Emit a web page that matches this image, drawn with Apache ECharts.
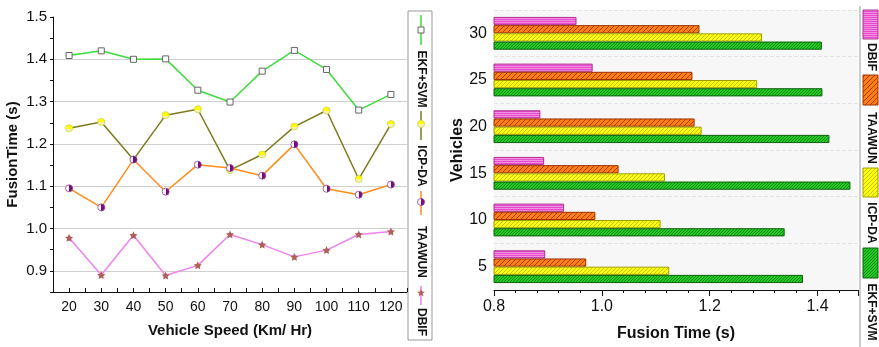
<!DOCTYPE html>
<html><head><meta charset="utf-8">
<script src="https://cdn.jsdelivr.net/npm/echarts@6/dist/echarts.min.js"></script>
<style>html,body{margin:0;padding:0;background:#fff}#c{width:879px;height:347px}</style>
</head><body><div id="c"></div>
<script>
// ---- data ----
const speeds = [20, 30, 40, 50, 60, 70, 80, 90, 100, 110, 120];
const ekfLine  = [1.409, 1.420, 1.400, 1.401, 1.327, 1.299, 1.372, 1.421, 1.376, 1.280, 1.317];
const icpLine  = [1.237, 1.252, 1.163, 1.268, 1.282, 1.138, 1.175, 1.241, 1.279, 1.117, 1.247];
const taaLine  = [1.095, 1.050, 1.163, 1.087, 1.151, 1.143, 1.125, 1.199, 1.094, 1.080, 1.104];
const dbifLine = [0.978, 0.890, 0.984, 0.889, 0.913, 0.986, 0.962, 0.933, 0.949, 0.986, 0.993];

const vehicles = ['5', '10', '15', '20', '25', '30'];
const ekfBar  = [1.373, 1.339, 1.461, 1.422, 1.409, 1.408];
const icpBar  = [1.125, 1.109, 1.117, 1.185, 1.288, 1.297];
const taaBar  = [0.971, 0.988, 1.031, 1.172, 1.168, 1.181];
const dbifBar = [0.895, 0.930, 0.893, 0.886, 0.983, 0.953];

const seriesNames = ['EKF+SVM', 'ICP-DA', 'TAAWUN', 'DBIF'];

// ---- patterns ----
function mk(w, h, draw) { const c = document.createElement('canvas'); c.width = w; c.height = h; draw(c.getContext('2d'), w, h); return c; }
function diag(bg, fg, s, lw) {
  return { image: mk(s, s, (g) => {
    g.fillStyle = bg; g.fillRect(0, 0, s, s);
    g.strokeStyle = fg; g.lineWidth = lw; g.beginPath();
    g.moveTo(0, s); g.lineTo(s, 0);
    g.moveTo(-1, 1); g.lineTo(1, -1);
    g.moveTo(s - 1, s + 1); g.lineTo(s + 1, s - 1);
    g.stroke();
  }), repeat: 'repeat' };
}
function horiz(bg, fg, s) {
  return { image: mk(4, s, (g) => { g.fillStyle = bg; g.fillRect(0, 0, 4, s); g.fillStyle = fg; g.fillRect(0, 0, 4, 1); }), repeat: 'repeat' };
}
const pGreen = diag('#22cc22', '#138a13', 3, 1);
const pYellow = diag('#ffff10', '#c4c400', 4, 1);
const pOrange = diag('#ff8010', '#a83a00', 5, 1);
const pPink = horiz('#e44ccc', '#f590e4', 2);

const FONT = 'Liberation Sans, Arial, sans-serif';
const chart = echarts.init(document.getElementById('c'), null, { renderer: 'canvas' });

const halfPurple = new echarts.graphic.LinearGradient(0, 0, 1, 0, [
  { offset: 0, color: '#ffffff' }, { offset: 0.5, color: '#ffffff' },
  { offset: 0.5, color: '#7a0a84' }, { offset: 1, color: '#7a0a84' }]);
const halfYellow = new echarts.graphic.LinearGradient(0, 0, 0, 1, [
  { offset: 0, color: '#ffff00' }, { offset: 0.55, color: '#ffff00' },
  { offset: 0.55, color: '#f4f4b0' }, { offset: 1, color: '#f4f4b0' }]);

const STAR = 'path://M0,-10 L2.9,-4 L9.5,-3.1 L4.8,1.5 L5.9,8.1 L0,5 L-5.9,8.1 L-4.8,1.5 L-9.5,-3.1 L-2.9,-4 Z';

function pairs(arr) { return speeds.map((s, i) => [s, arr[i]]); }
const isTenth = (v) => Math.abs(v * 10 - Math.round(v * 10)) < 1e-6;

// gridline colours for ticks 0.85 .. 1.50 (step 0.05): only 0.9 .. 1.4 drawn
const T = 'rgba(0,0,0,0)', G = '#cfcfcf';
const gridColors = [T, G, T, G, T, G, T, G, T, G, T, G, T, T];

// legend graphics
const lx = 421, rx = 871;
function vline(x, y1, y2, color) { return { type: 'line', shape: { x1: x, y1: y1, x2: x, y2: y2 }, style: { stroke: color, lineWidth: 1.5 }, silent: true }; }
function vtext(x, y, t) { return { type: 'text', x: x, y: y, rotation: -Math.PI / 2, style: { text: t, font: 'bold 12px ' + FONT, fill: '#111', align: 'center', verticalAlign: 'middle' }, silent: true }; }
function starPts(cx, cy, r) {
  const pts = [];
  for (let i = 0; i < 10; i++) {
    const a = -Math.PI / 2 + i * Math.PI / 5;
    const rr = i % 2 === 0 ? r : r * 0.42;
    pts.push([cx + rr * Math.cos(a), cy + rr * Math.sin(a)]);
  }
  return pts;
}

const graphics = [
  { type: 'rect', shape: { x: 408, y: 11, width: 24, height: 329 }, style: { fill: 'none', stroke: '#999', lineWidth: 1 }, silent: true },
  vline(lx, 15, 45, '#3ddc3d'),
  { type: 'rect', shape: { x: lx - 3, y: 27, width: 6, height: 6 }, style: { fill: '#fff', stroke: '#666', lineWidth: 1 }, silent: true },
  vtext(lx, 79, seriesNames[0]),
  vline(lx, 111, 140, '#7b7b1e'),
  { type: 'circle', shape: { cx: lx, cy: 124, r: 3.5 }, style: { fill: halfYellow, stroke: '#d0d040', lineWidth: 0.8 }, silent: true },
  vtext(lx, 166, seriesNames[1]),
  vline(lx, 191, 215, '#ff8c1a'),
  { type: 'circle', shape: { cx: lx, cy: 202, r: 3.5 }, style: { fill: halfPurple, stroke: '#8a3a94', lineWidth: 0.8 }, silent: true },
  vtext(lx, 252, seriesNames[2]),
  vline(lx, 286, 305, '#ee82ee'),
  { type: 'polygon', shape: { points: starPts(lx, 293, 4.2) }, style: { fill: '#b0605a' }, silent: true },
  vtext(lx, 322, seriesNames[3]),
  // right legend
  { type: 'line', shape: { x1: 860, y1: 6, x2: 860, y2: 347 }, style: { stroke: '#999', lineWidth: 1 }, silent: true },
  { type: 'rect', shape: { x: 863, y: 10, width: 15, height: 29 }, style: { fill: pPink, stroke: '#b03090', lineWidth: 1 }, silent: true },
  vtext(rx, 57, seriesNames[3]),
  { type: 'rect', shape: { x: 863, y: 75, width: 15, height: 30 }, style: { fill: pOrange, stroke: '#a03000', lineWidth: 1 }, silent: true },
  vtext(rx, 138, seriesNames[2]),
  { type: 'rect', shape: { x: 863, y: 168, width: 15, height: 29 }, style: { fill: pYellow, stroke: '#a0a000', lineWidth: 1 }, silent: true },
  vtext(rx, 223, seriesNames[1]),
  { type: 'rect', shape: { x: 863, y: 248, width: 15, height: 30 }, style: { fill: pGreen, stroke: '#106010', lineWidth: 1 }, silent: true },
  vtext(rx, 312, seriesNames[0])
];

const barBase = { type: 'bar', xAxisIndex: 1, yAxisIndex: 1, barWidth: 8.2, barGap: '0%' };

chart.setOption({
  animation: false,
  backgroundColor: '#fff',
  textStyle: { fontFamily: FONT },
  grid: [
    { left: 53, top: 17, width: 354, height: 275 },
    { left: 494, top: 10, width: 364, height: 283, show: true, backgroundColor: '#f7f7f7', borderWidth: 0 }
  ],
  xAxis: [
    { type: 'value', gridIndex: 0, min: 15, max: 125, interval: 5,
      name: 'Vehicle Speed (Km/ Hr)', nameLocation: 'middle', nameGap: 31,
      nameTextStyle: { fontFamily: FONT, fontWeight: 'bold', fontSize: 15, color: '#111' },
      axisLine: { show: true, lineStyle: { color: '#111', width: 1 } },
      axisTick: { show: true, inside: true, length: 4, lineStyle: { color: '#111' } },
      axisLabel: { fontSize: 14, color: '#111', margin: 8, formatter: (v) => (v % 10 === 0 && v >= 20 && v <= 120) ? String(v) : '' },
      splitLine: { show: false } },
    { type: 'value', gridIndex: 1, min: 0.8, max: 1.475, interval: 0.2,
      name: 'Fusion Time (s)', nameLocation: 'middle', nameGap: 36,
      nameTextStyle: { fontFamily: FONT, fontWeight: 'bold', fontSize: 16, color: '#111' },
      axisLine: { show: true, lineStyle: { color: '#111', width: 1 } },
      axisTick: { show: true, length: 6, lineStyle: { color: '#111' } },
      minorTick: { show: true, splitNumber: 5, length: 3, lineStyle: { color: '#111' } },
      axisLabel: { fontSize: 16, color: '#111', margin: 9, showMaxLabel: false, formatter: (v) => v.toFixed(1) },
      splitLine: { show: false } }
  ],
  yAxis: [
    { type: 'value', gridIndex: 0, min: 0.85, max: 1.5, interval: 0.05,
      name: 'FusionTime (s)', nameLocation: 'middle', nameGap: 33,
      nameTextStyle: { fontFamily: FONT, fontWeight: 'bold', fontSize: 15, color: '#111' },
      axisLine: { show: true, lineStyle: { color: '#111', width: 1 } },
      axisTick: { show: true, length: 3, lineStyle: { color: '#111' } },
      axisLabel: { fontSize: 15, color: '#111', margin: 6, formatter: (v) => isTenth(v) ? v.toFixed(1) : '' },
      splitLine: { show: true, lineStyle: { color: gridColors, width: 1 } } },
    { type: 'category', gridIndex: 1, data: vehicles,
      name: 'Vehicles', nameLocation: 'middle', nameGap: 27,
      nameTextStyle: { fontFamily: FONT, fontWeight: 'bold', fontSize: 16, color: '#111' },
      axisLine: { show: false }, axisTick: { show: false },
      axisLabel: { fontSize: 16, color: '#111', margin: 7 },
      splitLine: { show: true, lineStyle: { color: '#e4e4e4', type: 'dashed', width: 1 } } }
  ],
  series: [
    { name: seriesNames[0], type: 'line', data: pairs(ekfLine), symbol: 'rect', symbolSize: 6,
      lineStyle: { color: '#3ddc3d', width: 1.5 }, itemStyle: { color: '#fff', borderColor: '#666', borderWidth: 1 } },
    { name: seriesNames[1], type: 'line', data: pairs(icpLine), symbol: 'circle', symbolSize: 7,
      lineStyle: { color: '#7b7b1e', width: 1.5 }, itemStyle: { color: halfYellow, borderColor: '#d0d040', borderWidth: 0.8 } },
    { name: seriesNames[2], type: 'line', data: pairs(taaLine), symbol: 'circle', symbolSize: 7,
      lineStyle: { color: '#ff8c1a', width: 1.5 }, itemStyle: { color: halfPurple, borderColor: '#8a3a94', borderWidth: 0.8 } },
    { name: seriesNames[3], type: 'line', data: pairs(dbifLine), symbol: STAR, symbolSize: 8,
      lineStyle: { color: '#ee82ee', width: 1.5 }, itemStyle: { color: '#b0605a' } },
    Object.assign({}, barBase, { name: seriesNames[3], data: dbifBar, itemStyle: { color: pPink, borderColor: '#b03090', borderWidth: 1 } }),
    Object.assign({}, barBase, { name: seriesNames[2], data: taaBar, itemStyle: { color: pOrange, borderColor: '#a03000', borderWidth: 1 } }),
    Object.assign({}, barBase, { name: seriesNames[1], data: icpBar, itemStyle: { color: pYellow, borderColor: '#a0a000', borderWidth: 1 } }),
    Object.assign({}, barBase, { name: seriesNames[0], data: ekfBar, itemStyle: { color: pGreen, borderColor: '#106010', borderWidth: 1 } })
  ],
  graphic: graphics
});
</script>
</body></html>
